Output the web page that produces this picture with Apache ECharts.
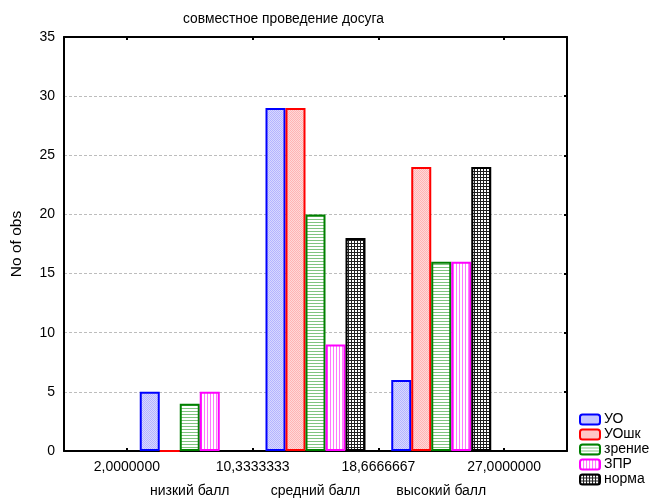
<!DOCTYPE html>
<html>
<head>
<meta charset="utf-8">
<script src="https://cdn.jsdelivr.net/npm/echarts@6/dist/echarts.min.js"></script>
<style>
  html, body { margin: 0; padding: 0; background: #fff; }
  #chart { width: 651px; height: 498px; }
</style>
</head>
<body>
<div id="chart"></div>
<script>
// Score groups on the x axis and the bin boundary labels between them
const categories = ['низкий балл', 'средний балл', 'высокий балл'];
const binLabels = ['2,0000000', '10,3333333', '18,6666667', '27,0000000'];

// Number of observations per group
const seriesNames = ['УО', 'УОшк', 'зрение', 'ЗПР', 'норма'];
const valuesUO = [5, 29, 6];
const valuesUOshk = [0, 29, 24];
const valuesVision = [4, 20, 16];
const valuesZPR = [5, 9, 16];
const valuesNorm = [0, 18, 24];

const yTicks = { min: 0, max: 35, interval: 5 };

// Small canvas tiles used as hatch fills
function tile(w, h, draw) {
  const c = document.createElement('canvas');
  c.width = w; c.height = h;
  const ctx = c.getContext('2d');
  ctx.fillStyle = '#ffffff';
  ctx.fillRect(0, 0, w, h);
  draw(ctx);
  return { image: c, repeat: 'repeat' };
}
const fillDotted = (a, b) => tile(2, 2, ctx => {
  ctx.fillStyle = a; ctx.fillRect(0, 0, 1, 1); ctx.fillRect(1, 1, 1, 1);
  ctx.fillStyle = b; ctx.fillRect(1, 0, 1, 1); ctx.fillRect(0, 1, 1, 1);
});
const fillHoriz = col => tile(3, 3, ctx => { ctx.fillStyle = col; ctx.fillRect(0, 0, 3, 1); });
const fillVert = col => tile(3, 3, ctx => { ctx.fillStyle = col; ctx.fillRect(0, 0, 1, 3); });
const fillGrid = col => tile(3, 3, ctx => {
  ctx.fillStyle = col; ctx.fillRect(0, 0, 3, 1); ctx.fillRect(0, 0, 1, 3);
});

const styles = [
  { border: '#0000ff', fill: fillDotted('#b4b4ff', '#d8d8ff') },
  { border: '#ff0000', fill: fillDotted('#ffb4b4', '#ffd8d8') },
  { border: '#008000', fill: fillHoriz('#80c480') },
  { border: '#ff00ff', fill: fillVert('#ff78ff') },
  { border: '#000000', fill: fillGrid('#202020') }
];
const allValues = [valuesUO, valuesUOshk, valuesVision, valuesZPR, valuesNorm];

const font = 'Liberation Sans, Arial, sans-serif';
const axisCats = [''].concat(categories, ['']);

const chart = echarts.init(document.getElementById('chart'), null, { renderer: 'canvas' });
chart.setOption({
  animation: false,
  backgroundColor: '#ffffff',
  textStyle: { fontFamily: font, color: '#000' },
  grid: { left: 64, right: 84, top: 37, bottom: 45, containLabel: false },
  graphic: [{
    type: 'text', left: 183, top: 12,
    style: { text: 'совместное проведение досуга', font: '13.8px ' + font, fill: '#000' }
  }],
  legend: {
    orient: 'vertical', left: 579, top: 412, padding: 0, itemGap: 0,
    itemWidth: 20, itemHeight: 10,
    textStyle: { fontSize: 14, fontFamily: font, color: '#000', lineHeight: 15, padding: [0, 0, 0, -1] },
    data: seriesNames
  },
  xAxis: [
    {
      type: 'category', data: axisCats, boundaryGap: false, position: 'bottom',
      axisLine: { lineStyle: { color: '#000', width: 2 } },
      axisTick: { show: false },
      axisLabel: { margin: 33, fontSize: 14, color: '#000', fontFamily: font },
      splitLine: { show: false }
    },
    {
      type: 'category', data: binLabels, boundaryGap: true, position: 'bottom',
      axisLine: { show: false },
      axisTick: { show: true, inside: true, length: 3, alignWithLabel: true, lineStyle: { color: '#000', width: 2 } },
      axisLabel: { margin: 9, fontSize: 14, color: '#000', fontFamily: font },
      splitLine: { show: false }
    },
    {
      type: 'category', data: binLabels, boundaryGap: true, position: 'top',
      axisLine: { show: true, lineStyle: { color: '#000', width: 2 } },
      axisTick: { show: true, inside: true, length: 3, alignWithLabel: true, lineStyle: { color: '#000', width: 2 } },
      axisLabel: { show: false },
      splitLine: { show: false }
    }
  ],
  yAxis: [
    {
      type: 'value', min: yTicks.min, max: yTicks.max, interval: yTicks.interval,
      name: 'No of obs', nameLocation: 'middle', nameGap: 39, nameRotate: 90,
      nameTextStyle: { fontSize: 15.5, color: '#000', fontFamily: font },
      axisLine: { show: true, lineStyle: { color: '#000', width: 2 } },
      axisTick: { show: false },
      axisLabel: { margin: 9, fontSize: 14, color: '#000', fontFamily: font },
      splitLine: { show: true, lineStyle: { color: '#bdbdbd', type: [3, 2], width: 1 } }
    },
    {
      type: 'value', min: yTicks.min, max: yTicks.max, interval: yTicks.interval, position: 'right',
      axisLine: { show: true, lineStyle: { color: '#000', width: 2 } },
      axisTick: { show: true, inside: true, length: 3, lineStyle: { color: '#000', width: 2 } },
      axisLabel: { show: false },
      splitLine: { show: false }
    }
  ],
  series: seriesNames.map((name, i) => ({
    name: name,
    type: 'bar',
    xAxisIndex: 0, yAxisIndex: 0,
    barWidth: 20, barGap: '0%',
    itemStyle: { color: styles[i].fill, borderColor: styles[i].border, borderWidth: 2 },
    data: ['-'].concat(allValues[i], ['-'])
  }))
});
</script>
</body>
</html>
